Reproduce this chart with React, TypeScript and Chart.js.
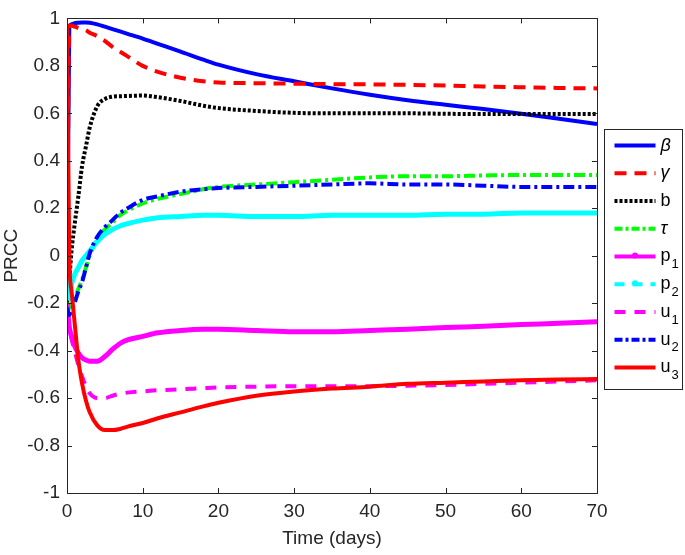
import React, { useEffect, useRef } from "react";
import { Chart, registerables } from "chart.js";

Chart.register(...registerables);

const times = [0, 0.3, 0.6, 1, 1.5, 2, 2.5, 3, 4, 5, 6, 7, 8, 10, 12, 15, 18, 20, 25, 30, 35, 40, 45, 50, 55, 60, 65, 70];

const beta = [-0.22, 0.96, 0.975, 0.98, 0.982, 0.983, 0.983, 0.982, 0.975, 0.965, 0.955, 0.945, 0.935, 0.915, 0.893, 0.86, 0.826, 0.805, 0.765, 0.735, 0.705, 0.678, 0.655, 0.636, 0.618, 0.598, 0.577, 0.555];
const gamma = [-0.22, 0.97, 0.97, 0.965, 0.96, 0.955, 0.95, 0.94, 0.925, 0.905, 0.88, 0.86, 0.84, 0.8, 0.775, 0.75, 0.735, 0.73, 0.727, 0.725, 0.723, 0.722, 0.72, 0.717, 0.713, 0.71, 0.707, 0.705];
const bVals = [-0.2, -0.1, 0.02, 0.13, 0.25, 0.38, 0.46, 0.54, 0.63, 0.66, 0.67, 0.672, 0.673, 0.675, 0.668, 0.652, 0.632, 0.622, 0.61, 0.602, 0.6, 0.6, 0.6, 0.598, 0.597, 0.597, 0.597, 0.597];
const tau = [-0.2, -0.22, -0.2, -0.18, -0.14, -0.1, -0.05, 0.0, 0.07, 0.11, 0.14, 0.17, 0.19, 0.22, 0.24, 0.26, 0.28, 0.29, 0.3, 0.31, 0.32, 0.33, 0.335, 0.335, 0.338, 0.34, 0.34, 0.34];
const p1 = [-0.2, -0.3, -0.34, -0.38, -0.41, -0.43, -0.44, -0.445, -0.445, -0.425, -0.395, -0.37, -0.355, -0.34, -0.325, -0.315, -0.31, -0.31, -0.315, -0.32, -0.32, -0.315, -0.31, -0.303, -0.297, -0.29, -0.285, -0.278];
const p2 = [0.0, -0.18, -0.12, -0.08, -0.05, -0.02, 0.0, 0.02, 0.06, 0.09, 0.11, 0.125, 0.135, 0.15, 0.16, 0.165, 0.17, 0.17, 0.165, 0.165, 0.17, 0.17, 0.17, 0.175, 0.175, 0.18, 0.18, 0.18];
const u1 = [-0.25, -0.3, -0.35, -0.4, -0.46, -0.51, -0.55, -0.58, -0.6, -0.6, -0.59, -0.582, -0.577, -0.572, -0.567, -0.563, -0.558, -0.555, -0.552, -0.55, -0.55, -0.55, -0.548, -0.545, -0.54, -0.535, -0.53, -0.525];
const u2 = [-0.22, -0.25, -0.23, -0.2, -0.15, -0.11, -0.05, 0.01, 0.08, 0.12, 0.15, 0.18, 0.2, 0.235, 0.25, 0.27, 0.28, 0.285, 0.29, 0.295, 0.3, 0.305, 0.3, 0.3, 0.295, 0.29, 0.29, 0.29];
const u3 = [0.97, 0.0, -0.15, -0.28, -0.44, -0.54, -0.61, -0.66, -0.715, -0.735, -0.735, -0.73, -0.72, -0.705, -0.685, -0.66, -0.635, -0.62, -0.59, -0.572, -0.56, -0.552, -0.54, -0.535, -0.53, -0.525, -0.522, -0.52];

const seriesLabels = ["β", "γ", "b", "τ", "p_1", "p_2", "u_1", "u_2", "u_3"];
const seriesValues = [beta, gamma, bVals, tau, p1, p2, u1, u2, u3];
const seriesColors = ["#0000ff", "#ff0000", "#000000", "#00ff00", "#ff00ff", "#00ffff", "#ff00ff", "#0000ff", "#ff0000"];
const seriesDash = [[], [12, 8], [3, 2], [11, 4, 3, 4], [], [], [11, 9], [11, 4, 3, 4], []];
const seriesWidth = [4, 4, 4, 4, 5, 5, 4, 4, 4];
const seriesMarker = [false, false, false, false, true, true, false, false, false];
const legendDash = [[], [12, 8], [3, 2], [8, 3, 3, 3], [], [10, 8], [11, 9], [8, 3, 3, 3], []];

const xTicks = [0, 10, 20, 30, 40, 50, 60, 70];
const yTicks = [-1, -0.8, -0.6, -0.4, -0.2, 0, 0.2, 0.4, 0.6, 0.8, 1];

const AXIS = "#262626";
const FONT = "'Liberation Sans', Arial, sans-serif";
const FS = 19;

const boxPlugin = {
  id: "matlabBox",
  afterDraw(chart: any) {
    const { ctx, chartArea: a, scales } = chart;
    ctx.save();
    ctx.strokeStyle = AXIS;
    ctx.lineWidth = 1;
    ctx.setLineDash([]);
    ctx.strokeRect(Math.round(a.left) + 0.5, Math.round(a.top) + 0.5, Math.round(a.right - a.left), Math.round(a.bottom - a.top));
    const tl = 5;
    ctx.beginPath();
    xTicks.forEach((v) => {
      const x = Math.round(scales.x.getPixelForValue(v)) + 0.5;
      ctx.moveTo(x, a.bottom);
      ctx.lineTo(x, a.bottom - tl);
      ctx.moveTo(x, a.top);
      ctx.lineTo(x, a.top + tl);
    });
    yTicks.forEach((v) => {
      const y = Math.round(scales.y.getPixelForValue(v)) + 0.5;
      ctx.moveTo(a.left, y);
      ctx.lineTo(a.left + tl, y);
      ctx.moveTo(a.right, y);
      ctx.lineTo(a.right - tl, y);
    });
    ctx.stroke();

    // legend
    const left = Math.round(a.right) + 7.5;
    const top = Math.round(a.top) + 111.5;
    const w = 78;
    const rowH = 27.75;
    const h = 260;
    ctx.fillStyle = "#ffffff";
    ctx.fillRect(left, top, w, h);
    ctx.strokeStyle = AXIS;
    ctx.lineWidth = 1;
    ctx.strokeRect(left, top, w, h);
    seriesLabels.forEach((lab, i) => {
      const cy = top + 16 + i * rowH;
      const x0 = left + 10;
      const x1 = left + 51;
      ctx.save();
      ctx.strokeStyle = seriesColors[i];
      ctx.lineWidth = 4;
      ctx.setLineDash(legendDash[i]);
      ctx.beginPath();
      ctx.moveTo(x0, cy);
      ctx.lineTo(x1, cy);
      ctx.stroke();
      if (seriesMarker[i]) {
        ctx.fillStyle = seriesColors[i];
        ctx.beginPath();
        ctx.arc((x0 + x1) / 2, cy - 1, 3, 0, Math.PI * 2);
        ctx.fill();
      }
      ctx.restore();
      ctx.fillStyle = "#000000";
      ctx.textBaseline = "middle";
      ctx.textAlign = "left";
      const parts = lab.split("_");
      const greek = /[α-ω]/.test(parts[0]);
      ctx.font = (greek ? "italic " : "") + "18px " + FONT;
      ctx.fillText(parts[0], left + 56, cy);
      if (parts[1]) {
        const mw = ctx.measureText(parts[0]).width;
        ctx.font = "13px " + FONT;
        ctx.fillText(parts[1], left + 56 + mw + 1, cy + 8);
      }
    });
    ctx.restore();
  },
};

export default function App() {
  const ref = useRef<HTMLCanvasElement | null>(null);
  useEffect(() => {
    document.body.style.margin = "0";
    const canvas = ref.current;
    if (!canvas) return;
    const datasets = seriesValues.map((vals, i) => ({
      label: seriesLabels[i],
      data: times.map((t, j) => ({ x: t, y: vals[j] })),
      borderColor: seriesColors[i],
      backgroundColor: seriesColors[i],
      borderWidth: seriesWidth[i],
      borderDash: seriesDash[i],
      borderCapStyle: "butt",
      borderJoinStyle: "round",
      pointRadius: 0,
      fill: false,
      cubicInterpolationMode: "monotone",
      order: -i,
    }));
    const chart = new Chart(canvas, {
      type: "line",
      data: { datasets } as any,
      options: {
        responsive: false,
        animation: false,
        layout: { padding: { left: 0, right: 88, top: 11, bottom: 0 } },
        plugins: {
          legend: { display: false },
          tooltip: { enabled: false },
        },
        scales: {
          x: {
            type: "linear",
            min: 0,
            max: 70,
            afterBuildTicks: (s: any) => {
              s.ticks = xTicks.map((v) => ({ value: v }));
            },
            afterFit: (s: any) => {
              s.height = 62;
            },
            grid: { display: false, drawTicks: false },
            border: { display: false },
            ticks: {
              color: AXIS,
              padding: 7,
              maxRotation: 0,
              font: { family: FONT, size: FS },
              callback: (v: any) => String(v),
            },
            title: {
              display: true,
              text: "Time (days)",
              color: AXIS,
              font: { family: FONT, size: FS },
              padding: { top: 0, bottom: 5 },
            },
          },
          y: {
            type: "linear",
            min: -1,
            max: 1,
            afterBuildTicks: (s: any) => {
              s.ticks = yTicks.map((v) => ({ value: v }));
            },
            afterFit: (s: any) => {
              s.width = 67;
            },
            grid: { display: false, drawTicks: false },
            border: { display: false },
            ticks: {
              color: AXIS,
              padding: 7,
              font: { family: FONT, size: FS },
              callback: (v: any) => String(Number(Number(v).toFixed(1))),
            },
            title: {
              display: true,
              text: "PRCC",
              color: AXIS,
              font: { family: FONT, size: FS },
              padding: { top: 0, bottom: 0 },
            },
          },
        },
      },
      plugins: [boxPlugin],
    } as any);
    return () => chart.destroy();
  }, []);
  return <canvas ref={ref} width={685} height={555} style={{ display: "block" }} />;
}
